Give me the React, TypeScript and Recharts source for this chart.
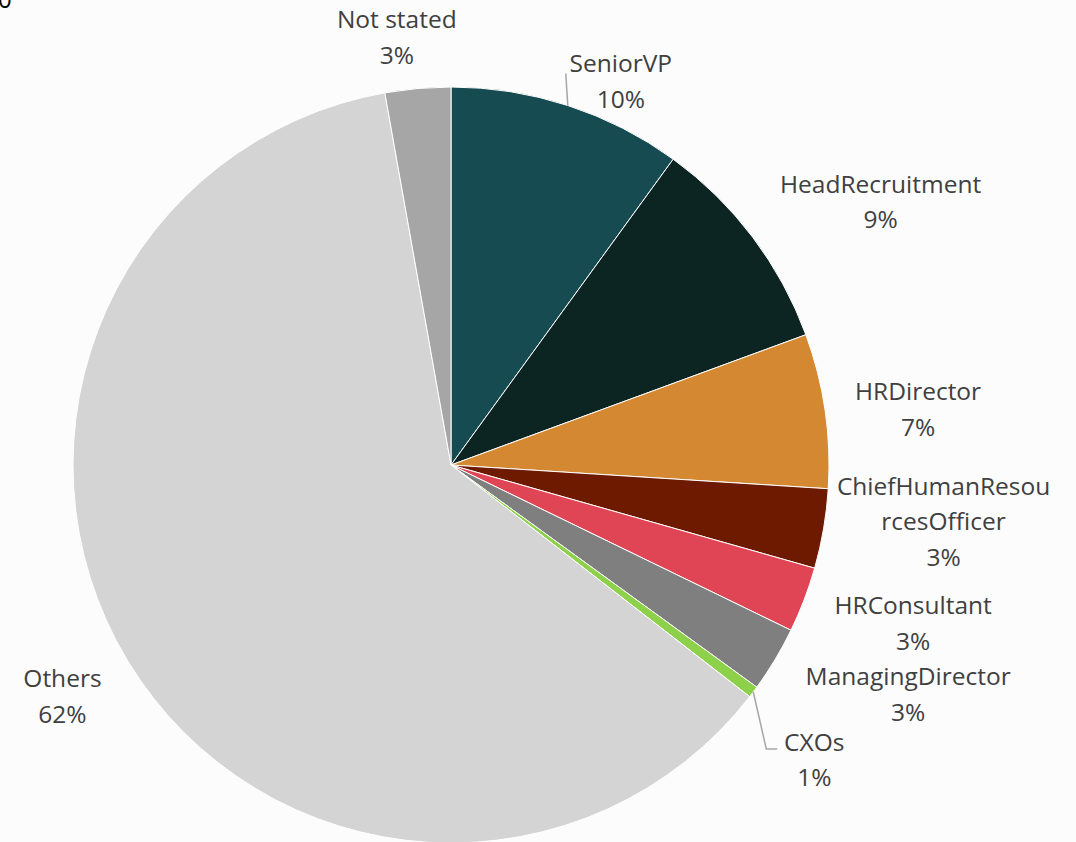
import React from 'react';
import { PieChart, Pie, Cell } from 'recharts';

const categories = [
  'SeniorVP',
  'HeadRecruitment',
  'HRDirector',
  'ChiefHumanResourcesOfficer',
  'HRConsultant',
  'ManagingDirector',
  'CXOs',
  'Others',
  'Not stated',
];
const shares = [10.0, 9.4, 6.6, 3.4, 2.8, 2.8, 0.5, 61.7, 2.8];
const colors = [
  '#174B52',
  '#0C2422',
  '#D38831',
  '#6E1A00',
  '#E04555',
  '#7F7F7F',
  '#8DD14B',
  '#D4D4D4',
  '#A6A6A6',
];

// label placement offsets relative to the slice's outer mid point (style only)
const labelOffsets: [number, number][] = [
  [53, -25],
  [128, -36],
  [93, -2],
  [120, -8],
  [109, 23],
  [133, 34],
  [61, 67],
  [-65, 35],
  [-21, -52],
];
// leader-line waypoints (relative to outer mid point); empty = no line
const leaderLines: [number, number][][] = [
  [[-2, -32]],
  [],
  [],
  [],
  [],
  [],
  [[13, 57], [24, 57]],
  [],
  [],
];

const data = categories.map((name, i) => ({ name, value: shares[i] }));

const RAD = Math.PI / 180;
const FONT = '"Open Sans", "Noto Sans", sans-serif';

const wrap = (s: string, n: number) => {
  if (s.length <= 20) return [s];
  const out: string[] = [];
  for (let i = 0; i < s.length; i += n) out.push(s.slice(i, i + n));
  return out;
};

const renderLabel = (props: any) => {
  const { cx, cy, midAngle, outerRadius, index, percent, name } = props;
  const px = cx + Math.cos(-midAngle * RAD) * outerRadius;
  const py = cy + Math.sin(-midAngle * RAD) * outerRadius;
  const [dx, dy] = labelOffsets[index];
  const x = px + dx;
  const y = py + dy;
  const lines = [...wrap(name, 15), `${Math.round(percent * 100)}%`];
  const lh = 35.5;
  const y0 = y - ((lines.length - 1) * lh) / 2;
  const pts = leaderLines[index];
  return (
    <g key={`lbl-${index}`}>
      {pts.length > 0 && (
        <polyline
          points={[[px, py], ...pts.map(([a, b]) => [px + a, py + b])]
            .map((p) => p.join(','))
            .join(' ')}
          fill="none"
          stroke="#A6A6A6"
          strokeWidth={1.5}
        />
      )}
      <text
        x={x}
        textAnchor="middle"
        fill="#404040"
        fontSize={24.5}
        fontFamily={FONT}
      >
        {lines.map((l, k) => (
          <tspan key={k} x={x} y={y0 + k * lh} dominantBaseline="central">
            {l}
          </tspan>
        ))}
      </text>
    </g>
  );
};

export default function App() {
  return (
    <div
      style={{
        position: 'absolute',
        left: 0,
        top: 0,
        width: 1076,
        height: 842,
        background: '#FCFCFC',
        overflow: 'hidden',
      }}
    >
      <div
        style={{
          position: 'absolute',
          left: -2,
          top: -16,
          fontFamily: FONT,
          fontSize: 24,
          color: '#000',
          lineHeight: '30px',
        }}
      >
        0
      </div>
      <PieChart
        width={1076}
        height={842}
        margin={{ top: 0, right: 0, bottom: 0, left: 0 }}
        style={{ position: 'absolute', left: 0, top: 0 }}
      >
        <Pie
          data={data}
          dataKey="value"
          nameKey="name"
          cx={451}
          cy={465}
          outerRadius={378}
          startAngle={90}
          endAngle={-270}
          stroke="#FFFFFF"
          strokeWidth={1}
          label={renderLabel}
          labelLine={false}
          isAnimationActive={false}
        >
          {data.map((d, i) => (
            <Cell key={d.name} fill={colors[i]} />
          ))}
        </Pie>
      </PieChart>
    </div>
  );
}
